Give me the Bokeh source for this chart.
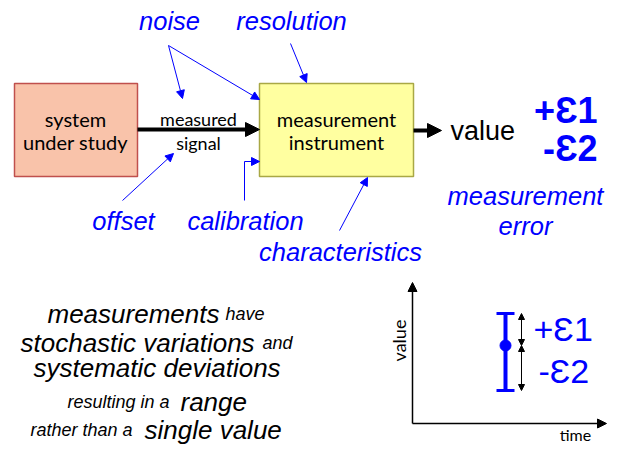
import math
from bokeh.plotting import figure
from bokeh.models import Range1d, Arrow, NormalHead, Label
from bokeh.core.properties import value
from bokeh.embed import file_html
from bokeh.resources import INLINE

BLUE = "#0000FF"
SANS = "Liberation Sans"
BOXFONT = "Lato"

# ---- process boxes ----
box_left = [14, 259]
box_right = [137, 413]
box_top = [83, 83]
box_bottom = [176, 176]
box_fill = ["#F9C3AA", "#FFFFA0"]
box_line = ["#C0504D", "#A9A845"]
box_text_x = [75, 336]
box_text1 = ["system", "measurement"]
box_text2 = ["under study", "instrument"]
box_text_y1 = [118, 118]
box_text_y2 = [141, 141]

# ---- signal flow ----
signal_labels = ["measured", "signal"]
signal_label_x = [198, 198]
signal_label_y = [118, 142]
flow_x0 = [137, 413]
flow_x1 = [259, 441]
flow_y = [129, 130]

# ---- influencing factors ----
factor_labels = ["noise", "resolution", "offset", "calibration", "characteristics"]
factor_x = [169, 291, 123, 245, 340]
factor_y = [20, 20, 220, 220, 251]
fa_x0 = [168, 168, 290, 122, 339, 244]
fa_y0 = [45, 45, 43, 200, 230, 161]
fa_x1 = [182, 259, 306, 173, 367, 259]
fa_y1 = [98, 99, 82, 153, 177, 161]
cal_x = [244, 244]
cal_y = [200, 161]

# ---- result ----
result_label = "value"
err_labels = ["+Ɛ1", "-Ɛ2"]
err_label_y = [110, 148]
err_caption = ["measurement", "error"]
err_caption_y = [195, 225]

# ---- explanatory sentence (text segments) ----
seg_text = ["measurements", "have", "stochastic variations", "and",
            "systematic deviations", "resulting in a", "range",
            "rather than a", "single value"]
seg_x = [47, 225, 20, 262, 33, 67, 180, 30, 144]
seg_base = [313, 313, 342, 342, 367, 401, 401, 429, 429]
seg_size = ["26px", "18px", "26px", "18px", "26px", "18px", "26px", "18px", "26px"]

# ---- value vs time sketch ----
axis_origin = (412, 423)
axis_y_end = 282
axis_x_end = 606
eb_time = [505]
eb_value = [345]
eb_upper = [313]
eb_lower = [390]
eb_labels = ["+Ɛ1", "-Ɛ2"]
eb_label_x = [533, 538]
eb_label_y = [328, 370]

p = figure(width=608, height=446, x_range=Range1d(0, 608), y_range=Range1d(446, 0),
           output_backend="svg", toolbar_location=None, min_border=0,
           background_fill_color="white", border_fill_color="white")
p.axis.visible = False
p.grid.visible = False
p.outline_line_color = None

# boxes
p.quad(left=box_left, right=box_right, top=box_top, bottom=box_bottom,
       fill_color=box_fill, line_color=box_line, line_width=1.5)
p.text(x=box_text_x, y=box_text_y1, text=box_text1, text_font=value(BOXFONT),
       text_font_size="20px", text_align="center", text_baseline="middle", text_color="black")
p.text(x=box_text_x, y=box_text_y2, text=box_text2, text_font=value(BOXFONT),
       text_font_size="20px", text_align="center", text_baseline="middle", text_color="black")

# black flow arrows
for x0, x1, y in zip(flow_x0, flow_x1, flow_y):
    p.add_layout(Arrow(x_start=x0, y_start=y, x_end=x1, y_end=y, line_width=4, line_color="black",
                       end=NormalHead(size=14, fill_color="black", line_color="black")))
p.text(x=signal_label_x, y=signal_label_y, text=signal_labels, text_font=value(BOXFONT),
       text_font_size="18px", text_align="center", text_baseline="middle", text_color="black")

# factor arrows
p.line(x=cal_x, y=cal_y, line_color=BLUE, line_width=1)
for x0, y0, x1, y1 in zip(fa_x0, fa_y0, fa_x1, fa_y1):
    p.add_layout(Arrow(x_start=x0, y_start=y0, x_end=x1, y_end=y1, line_width=1, line_color=BLUE,
                       end=NormalHead(size=8, fill_color=BLUE, line_color=BLUE)))
p.text(x=factor_x, y=factor_y, text=factor_labels, text_font=value(SANS), text_font_style="italic",
       text_font_size="25.5px", text_align="center", text_baseline="middle", text_color=BLUE)

# result
p.text(x=[450], y=[130], text=[result_label], text_font=value(SANS), text_font_size="27px",
       text_align="left", text_baseline="middle", text_color="black")
p.text(x=[597, 597], y=err_label_y, text=err_labels, text_font=value(SANS), text_font_style="bold",
       text_font_size="36px", text_align="right", text_baseline="middle", text_color=BLUE)
p.text(x=[525, 525], y=err_caption_y, text=err_caption, text_font=value(SANS), text_font_style="italic",
       text_font_size="25.5px", text_align="center", text_baseline="middle", text_color=BLUE)

# sentence
p.text(x=seg_x, y=seg_base, text=seg_text, text_font=value(SANS), text_font_style="italic",
       text_font_size=seg_size, text_align="left", text_baseline="alphabetic", text_color="black")

# value/time sketch axes
ox, oy = axis_origin
p.add_layout(Arrow(x_start=ox, y_start=oy, x_end=ox, y_end=axis_y_end, line_width=1.5, line_color="black",
                   end=NormalHead(size=9, fill_color="black", line_color="black")))
p.add_layout(Arrow(x_start=ox, y_start=oy, x_end=axis_x_end, y_end=oy, line_width=1.5, line_color="black",
                   end=NormalHead(size=9, fill_color="black", line_color="black")))
p.add_layout(Label(x=398, y=340, text="value", angle=math.pi / 2, text_font=BOXFONT,
                   text_font_size="18px", text_align="center", text_baseline="middle", text_color="black"))
p.text(x=[575], y=[434], text=["time"], text_font=value(BOXFONT), text_font_size="16px",
       text_align="center", text_baseline="middle", text_color="black")

# error bar
p.segment(x0=eb_time, y0=eb_upper, x1=eb_time, y1=eb_lower, line_color=BLUE, line_width=4)
p.segment(x0=[eb_time[0] - 9, eb_time[0] - 9], y0=[eb_upper[0], eb_lower[0]],
          x1=[eb_time[0] + 9, eb_time[0] + 9], y1=[eb_upper[0], eb_lower[0]], line_color=BLUE, line_width=3)
p.scatter(x=eb_time, y=eb_value, size=11, color=BLUE)
ax = eb_time[0] + 16
for ya, yb in [(eb_upper[0], eb_value[0]), (eb_value[0], eb_lower[0])]:
    p.add_layout(Arrow(x_start=ax, y_start=ya, x_end=ax, y_end=yb, line_width=1, line_color="black",
                       start=NormalHead(size=6, fill_color="black", line_color="black"),
                       end=NormalHead(size=6, fill_color="black", line_color="black")))
p.text(x=eb_label_x, y=eb_label_y, text=eb_labels, text_font=value(SANS), text_font_size="34px",
       text_align="left", text_baseline="middle", text_color=BLUE)

open("out.html", "w").write(file_html(p, INLINE))
